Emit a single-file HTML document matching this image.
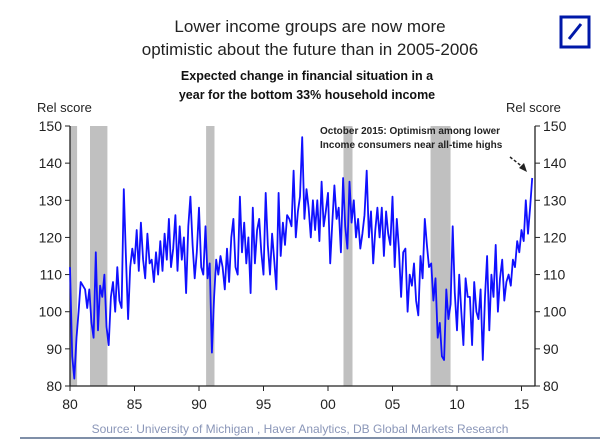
<!DOCTYPE html>
<html><head><meta charset="utf-8"><style>
body{margin:0;background:#fff;}
svg{display:block;font-family:"Liberation Sans",sans-serif;}
</style></head><body>
<svg id="c" width="600" height="440" viewBox="0 0 600 440">
<text x="310" y="32" font-size="17" text-anchor="middle" fill="#222">Lower income groups are now more</text>
<text x="310" y="55" font-size="17" text-anchor="middle" fill="#222">optimistic about the future than in 2005-2006</text>
<text x="307" y="80" font-size="12.5" font-weight="bold" text-anchor="middle" fill="#111">Expected change in financial situation in a</text>
<text x="307" y="99" font-size="12.5" font-weight="bold" text-anchor="middle" fill="#111">year for the bottom 33% household income</text>
<g>
<rect x="561" y="17" width="28" height="30" fill="none" stroke="#0018a8" stroke-width="3"/>
<line x1="569" y1="39" x2="581" y2="24" stroke="#0018a8" stroke-width="3"/>
</g>
<text x="37" y="112" font-size="13" fill="#222">Rel score</text>
<text x="506" y="112" font-size="13" fill="#222">Rel score</text>
<g id="bands"></g>
<g id="axes"></g>
<path id="line" fill="none" stroke="#1010ff" stroke-width="1.8" stroke-linejoin="round"/>
<text x="320" y="134" font-size="10" font-weight="bold" fill="#222">October 2015: Optimism among lower</text>
<text x="320" y="148" font-size="10" font-weight="bold" fill="#222">Income consumers near all-time highs</text>
<g>
<line x1="510" y1="157" x2="524" y2="168" stroke="#222" stroke-width="1.5" stroke-dasharray="3,2"/>
<polygon points="527,172 519,168 524,163" fill="#222"/>
</g>
<text x="300" y="433" font-size="12" text-anchor="middle" fill="#8a96b8">Source: University of Michigan , Haver Analytics, DB Global Markets Research</text>
<line x1="20" y1="438" x2="600" y2="438" stroke="#7f8fa8" stroke-width="2"/>
</svg>
<script>
const values = [
112,88,82,93,100,108, 107,106,101,106,97,93, 116,95,107,104,110,96, 91,104,108,100,112,103,
101,133,115,98,112,117, 113,122,111,124,114,109, 121,113,114,108,116,110, 119,111,121,114,125,112,
117,126,111,123,114,120, 105,123,131,118,109,116, 128,112,110,123,109,113, 89,104,114,110,115,112,
106,117,108,120,125,112, 110,131,116,124,113,120, 105,128,113,122,125,116, 110,132,118,110,121,114,
106,132,115,124,118,126, 125,123,138,120,127,131, 147,125,133,128,120,130, 122,130,119,135,123,127,
132,113,124,134,125,128, 116,136,123,117,135,124, 130,120,125,117,121,126, 138,120,127,113,122,128,
120,128,115,127,121,118, 131,112,125,117,104,116, 117,100,110,107,113,103, 99,115,109,125,118,112,
113,103,109,93,97,88, 87,106,98,102,123,105, 95,110,100,91,109,104, 104,91,108,100,98,106,
87,104,115,95,110,104, 118,100,109,114,103,108, 110,107,114,112,119,116, 122,119,130,121,128,136];
const startYear = 1980.0;
const step = 1/6;
const recessionStarts = [1980.0, 1981.55, 1990.55, 2001.2, 2007.95];
const recessionEnds = [1980.55, 1982.9, 1991.2, 2001.9, 2009.5];
const xTicks = [1980,1985,1990,1995,2000,2005,2010,2015];
const xLabels = ["80","85","90","95","00","05","10","15"];
const yTicks = [80,90,100,110,120,130,140,150];

const X0=70,X1=535,Y0=386,Y1=126;
const x = t => X0 + (t-1980)*12.9;
const y = v => Y0 - (v-80)*(Y0-Y1)/70;
const NS="http://www.w3.org/2000/svg";
function mk(tag,attrs,parent){const e=document.createElementNS(NS,tag);for(const k in attrs)e.setAttribute(k,attrs[k]);parent.appendChild(e);return e;}
const bands=document.getElementById('bands'), axes=document.getElementById('axes');
recessionStarts.forEach((s,i)=>{
  const r=mk('rect',{x:x(s),y:Y1,width:x(recessionEnds[i])-x(s),height:Y0-Y1,fill:'#c0c0c0'},bands);
  
  
});
let l=mk('line',{x1:X0,y1:Y1,x2:X0,y2:Y0,stroke:'#222','stroke-width':1.3},axes);


l=mk('line',{x1:X1,y1:Y1,x2:X1,y2:Y0,stroke:'#222','stroke-width':1.3},axes);


l=mk('line',{x1:X0,y1:Y0,x2:X1,y2:Y0,stroke:'#222','stroke-width':1.3},axes);


yTicks.forEach(v=>{
  mk('line',{x1:X0-5,y1:y(v),x2:X0,y2:y(v),stroke:'#222'},axes);
  mk('line',{x1:X1,y1:y(v),x2:X1+5,y2:y(v),stroke:'#222'},axes);
  let t=mk('text',{x:X0-8,y:y(v)+5,'font-size':14,'text-anchor':'end',fill:'#222'},axes);t.textContent=v;
  
  
  t=mk('text',{x:X1+8,y:y(v)+5,'font-size':14,fill:'#222'},axes);t.textContent=v;
  
  
});
xTicks.forEach((v,i)=>{
  mk('line',{x1:x(v),y1:Y0,x2:x(v),y2:Y0+5,stroke:'#222'},axes);
  const t=mk('text',{x:x(v),y:Y0+23,'font-size':14,'text-anchor':'middle',fill:'#222'},axes);t.textContent=xLabels[i];
  
  
});
let d='';
values.forEach((v,i)=>{d+=(i?'L':'M')+x(startYear+i*step).toFixed(1)+' '+y(v).toFixed(1);});
document.getElementById('line').setAttribute('d',d);
</script>
</body></html>
